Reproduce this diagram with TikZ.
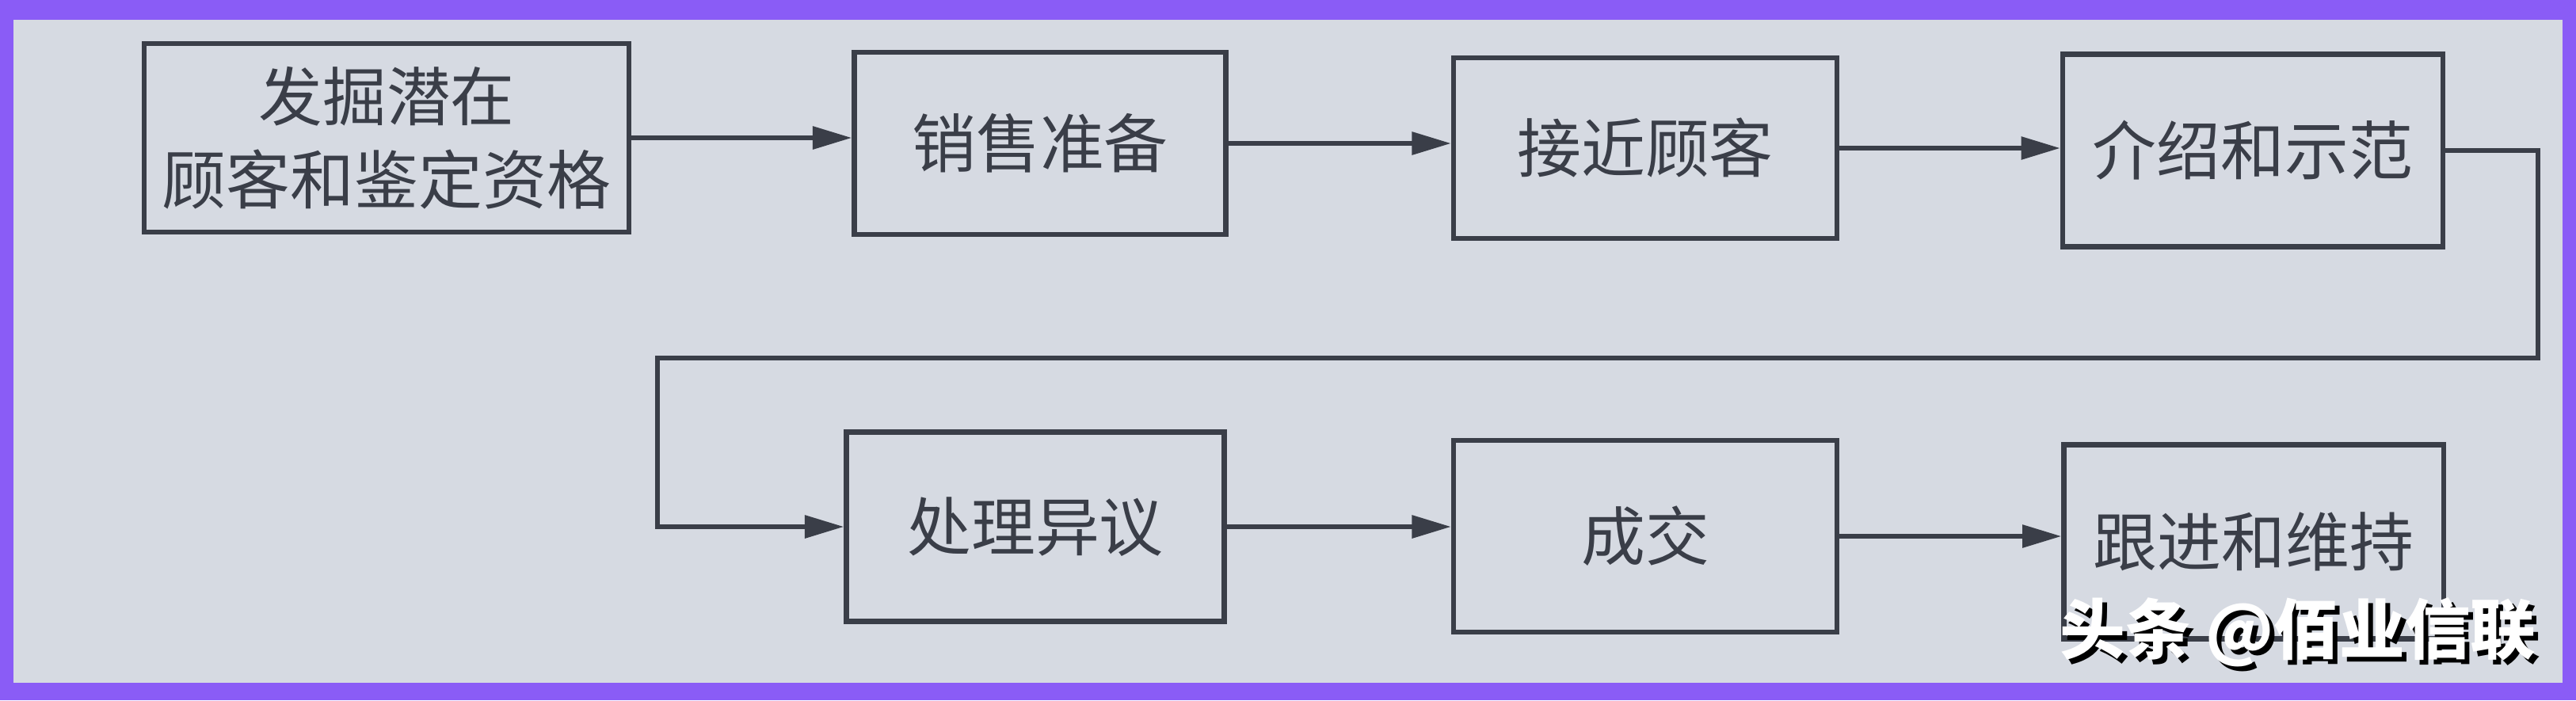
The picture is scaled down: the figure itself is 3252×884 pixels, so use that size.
\documentclass[tikz,border=0pt]{standalone}
\usepackage{fontspec}
\setmainfont{Noto Sans CJK SC}
\usetikzlibrary{arrows.meta}
\definecolor{paper}{HTML}{D6DAE2}
\definecolor{frame}{HTML}{8A5CF6}
\definecolor{ink}{HTML}{3A3E48}
\tikzset{
  stepbox/.style={draw=ink, line width=1.8pt, rectangle, inner sep=0pt, text=ink,
    font=\fontsize{23}{30}\selectfont, align=center},
  arr/.style={draw=ink, line width=1.6pt, -{Triangle[length=14pt,width=8pt]}},
  wm/.style={font=\fontsize{23.5}{26}\selectfont\bfseries, inner sep=0pt}
}
\begin{document}
\begin{tikzpicture}[x=0.01cm,y=-0.01cm]
\useasboundingbox (0,0) rectangle (3252,884);
\fill[frame] (0,0) rectangle (3252,884);
\fill[paper] (17,25) rectangle (3235,862);
% row 1
\node[stepbox, minimum width=6.11cm, minimum height=2.38cm] (b1) at (488,174) {发掘潜在\\顾客和鉴定资格};
\node[stepbox, minimum width=4.69cm, minimum height=2.30cm] (b2) at (1313,181) {销售准备};
\node[stepbox, minimum width=4.84cm, minimum height=2.28cm] (b3) at (2077,187) {接近顾客};
\node[stepbox, minimum width=4.80cm, minimum height=2.43cm] (b4) at (2844,190) {介绍和示范};
% row 2
\node[stepbox, minimum width=4.77cm, minimum height=2.39cm] (b5) at (1307,665) {处理异议};
\node[stepbox, minimum width=4.84cm, minimum height=2.42cm] (b6) at (2077,677) {成交};
\node[stepbox, minimum width=4.79cm, minimum height=2.45cm] (b7) at (2845,684) {跟进和维持};
% connectors
\draw[arr] (b1.east) -- (b1.east -| b2.west);
\draw[arr] (b2.east) -- (b2.east -| b3.west);
\draw[arr] (b3.east) -- (b3.east -| b4.west);
\coordinate (c1) at (3204,452);
\coordinate (c2) at (830,452);
\draw[arr] (b4.east) -| (c1) -- (c2) |- (b5.west);
\draw[arr] (b5.east) -- (b5.east -| b6.west);
\draw[arr] (b6.east) -- (b6.east -| b7.west);
% watermark
\node[wm, text=black, anchor=east] (wms) at (3208,804) {头条 @佰业信联};
\node[wm, text=white, anchor=east] (wm) at (3202,798) {头条 @佰业信联};
\end{tikzpicture}
\end{document}
